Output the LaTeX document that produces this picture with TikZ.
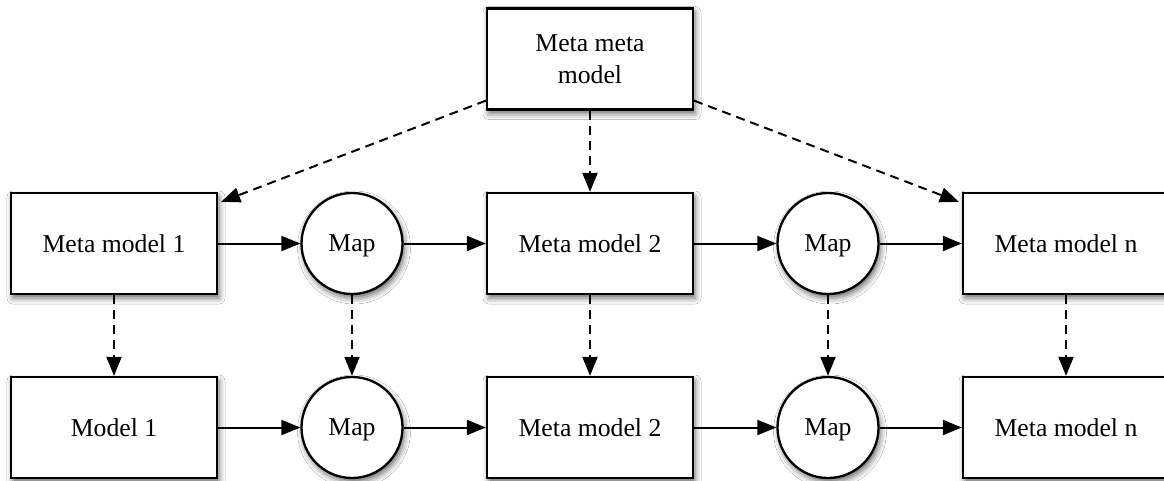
\documentclass[tikz,border=0pt]{standalone}
\usepackage{fontspec}
\setmainfont{Liberation Serif}
\usetikzlibrary{arrows.meta,shadows.blur}
\begin{document}
\begin{tikzpicture}[x=1pt,y=-1pt,
  shade box/.style={blur shadow={shadow xshift=2pt, shadow yshift=-4pt, shadow blur radius=6pt, shadow opacity=60}},
  box/.style={draw, line width=2.3pt, fill=white, minimum width=206pt, minimum height=101pt,
    inner sep=0pt, align=center, font=\fontsize{25.7}{32}\selectfont, shade box},
  mapnode/.style={circle, draw, line width=2.3pt, fill=white, minimum size=101pt, inner sep=0pt,
    text depth=0pt, font=\fontsize{25.7}{32}\selectfont, shade box},
  solidarrow/.style={-{Triangle[length=19pt,width=15pt]}, line width=2pt},
  dasharrow/.style={solidarrow, dash pattern=on 9pt off 6pt}
]
\clip (0,0) rectangle (1164,481);
\fill[white] (0,0) rectangle (1164,481);

\node[box] (top) at (590,59) {Meta meta\\model};

\node[box] (mm1) at (114,243.5) {Meta model 1};
\node[mapnode] (map1) at (352,243.5) {Map};
\node[box] (mm2) at (590,243.5) {Meta model 2};
\node[mapnode] (map2) at (828,243.5) {Map};
\node[box] (mmn) at (1066,243.5) {Meta model n};

\node[box] (m1) at (114,427.5) {Model 1};
\node[mapnode] (map3) at (352,427.5) {Map};
\node[box] (mm2b) at (590,427.5) {Meta model 2};
\node[mapnode] (map4) at (828,427.5) {Map};
\node[box] (mmnb) at (1066,427.5) {Meta model n};

% dashed from top
\draw[dasharrow] ([yshift=10pt]top.south west) -- ([xshift=3pt,yshift=-10pt]mm1.north east);
\draw[dasharrow] (top.south) -- (mm2.north);
\draw[dasharrow] ([yshift=10pt]top.south east) -- ([xshift=-3pt,yshift=-10pt]mmn.north west);

% row 1
\draw[solidarrow] (mm1.east) -- (map1.west);
\draw[solidarrow] (map1.east) -- (mm2.west);
\draw[solidarrow] (mm2.east) -- (map2.west);
\draw[solidarrow] (map2.east) -- (mmn.west);

% row 2
\draw[solidarrow] (m1.east) -- (map3.west);
\draw[solidarrow] (map3.east) -- (mm2b.west);
\draw[solidarrow] (mm2b.east) -- (map4.west);
\draw[solidarrow] (map4.east) -- (mmnb.west);

% verticals
\draw[dasharrow] (mm1.south) -- (m1.north);
\draw[dasharrow] (map1.south) -- (map3.north);
\draw[dasharrow] (mm2.south) -- (mm2b.north);
\draw[dasharrow] (map2.south) -- (map4.north);
\draw[dasharrow] (mmn.south) -- (mmnb.north);
\end{tikzpicture}
\end{document}
